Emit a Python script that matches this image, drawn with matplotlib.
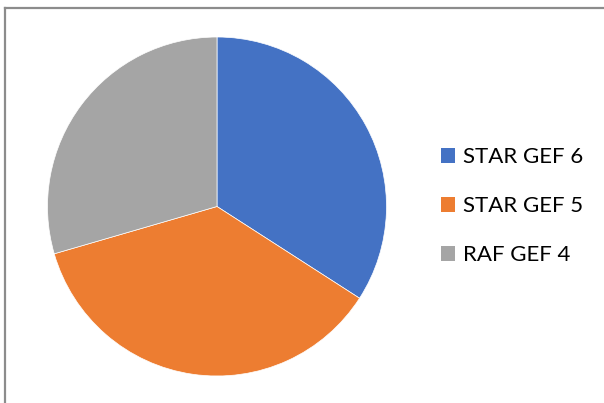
import matplotlib
matplotlib.use("Agg")
import matplotlib.pyplot as plt
from matplotlib.lines import Line2D
from matplotlib.patches import Patch

labels = ["STAR GEF 6", "STAR GEF 5", "RAF GEF 4"]
values = [34.1, 36.4, 29.5]
colors = ["#4472C4", "#ED7D31", "#A5A5A5"]

W, H = 604, 403
fig = plt.figure(figsize=(W / 100, H / 100), dpi=100)

# pie centre and radius in pixels
cx, cy, r = 217, 206.5, 169.5
ax = fig.add_axes([(cx - r) / W, (H - cy - r) / H, 2 * r / W, 2 * r / H])
ax.pie(values, colors=colors, startangle=90, counterclock=False, radius=1,
       wedgeprops=dict(edgecolor="white", linewidth=0.5))
ax.set_xlim(-1, 1)
ax.set_ylim(-1, 1)
ax.axis("off")

# chart frame (only top and left edges visible)
fc = "#8c8c8c"
fig.add_artist(Line2D([5 / W, 5 / W], [0, 1 - 8 / H], color=fc, lw=1.6, transform=fig.transFigure))
fig.add_artist(Line2D([5 / W, 1], [1 - 8 / H, 1 - 8 / H], color=fc, lw=1.6, transform=fig.transFigure))

handles = [Patch(facecolor=c, edgecolor="none") for c in colors]
fig.legend(handles, labels, loc="center left", bbox_to_anchor=(421 / W, 1 - 206 / H),
           frameon=False, handlelength=0.65, handleheight=0.65,
           handletextpad=0.35, labelspacing=1.3,
           prop={"family": "Lato", "size": 16})

fig.savefig("out.png", dpi=100)
